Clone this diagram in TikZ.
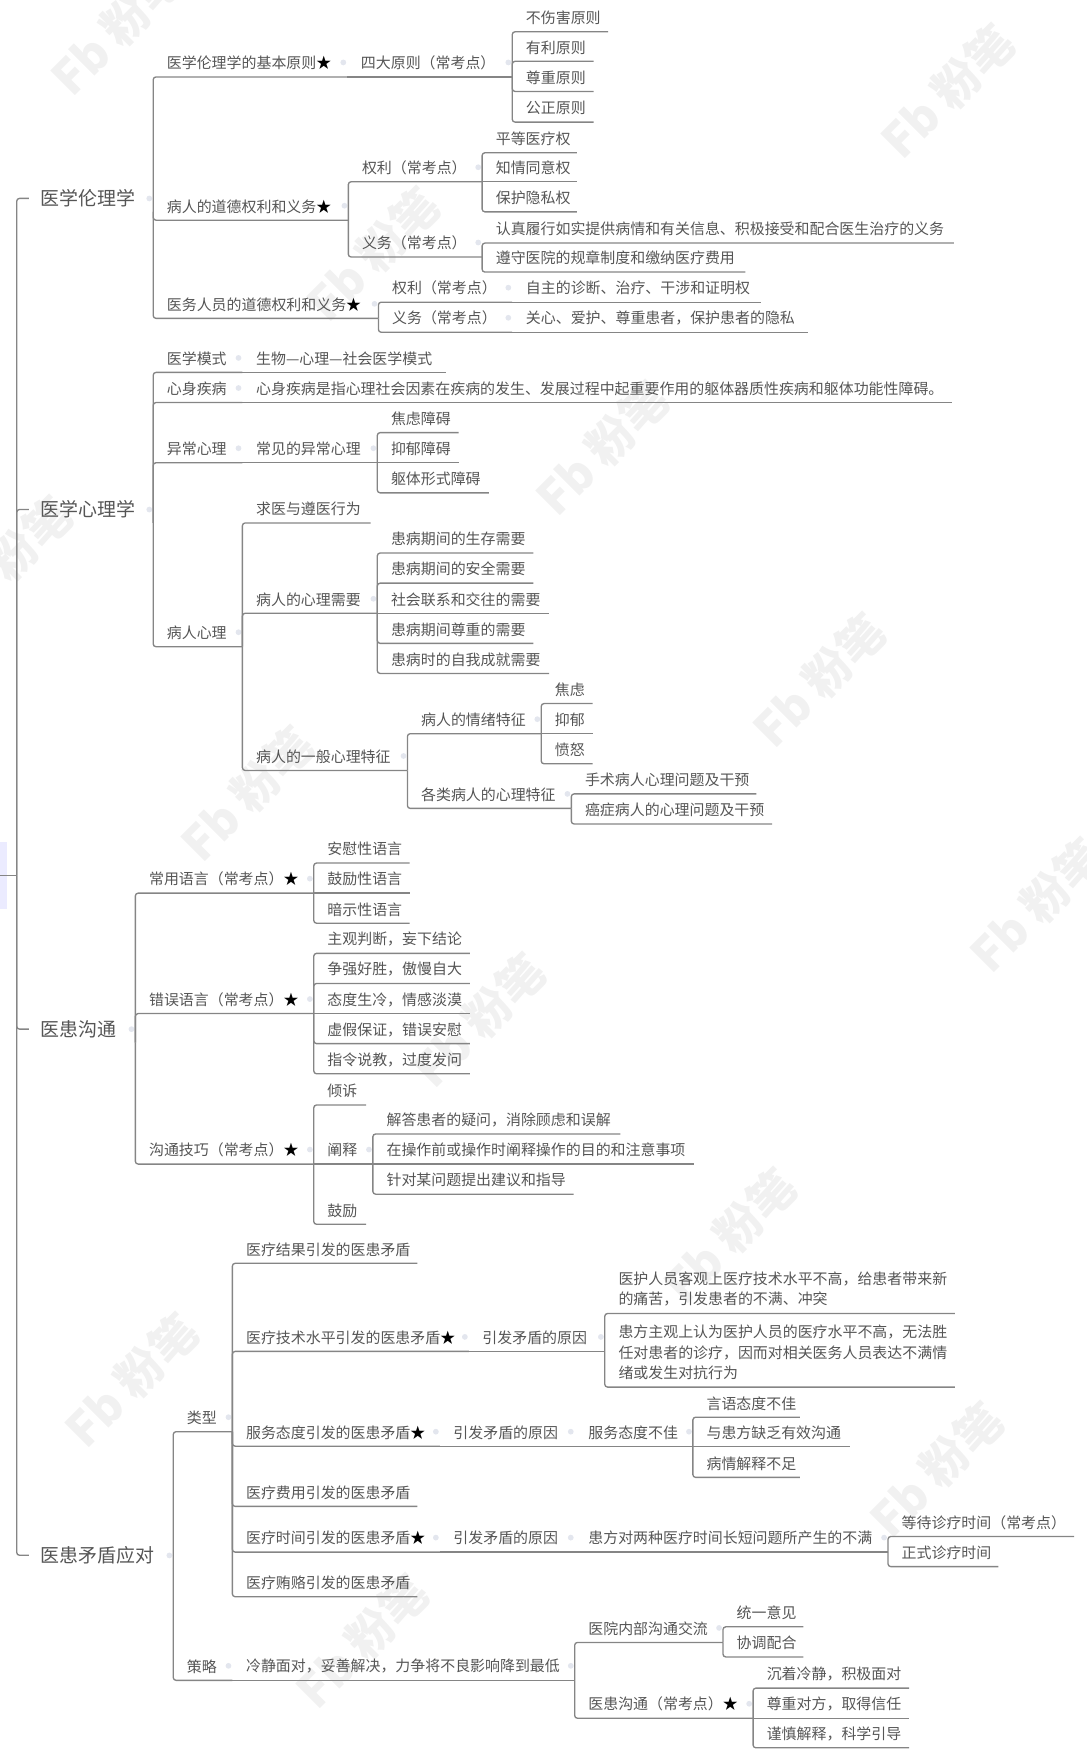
\documentclass[tikz,border=0pt]{standalone}
\usepackage{fontspec}
\setmainfont{Noto Sans CJK SC}
\definecolor{txtc}{HTML}{555555}
\definecolor{linec}{HTML}{858585}
\definecolor{dotc}{HTML}{E3E6EE}
\definecolor{wmc}{HTML}{F1F1F1}
\tikzset{
  topic/.style={anchor=south west,inner xsep=0pt,inner ysep=6pt,align=left,text=txtc,
    font=\fontsize{13.4}{18.5}\selectfont},
  rootnode/.style={topic,inner ysep=4pt,font=\fontsize{17}{20}\selectfont},
  conn/.style={draw=linec,line width=1.2pt,rounded corners=2.5pt},
  wmark/.style={text=wmc,rotate=45,font=\fontsize{42}{44}\selectfont\bfseries}
}
\newcommand{\st}{{\color{black}★}}
% \tn{name}{xleft}{yline}{xright}{text}: a branch lying on its own underline
\newcommand{\tn}[5]{%
  \pgfmathsetlengthmacro{\tw}{(#4-#2)*1pt}%
  \node[topic,text width=\tw] (#1) at (#2,#3) {\hspace*{12.5pt}#5};}
\newcommand{\rn}[5]{%
  \pgfmathsetlengthmacro{\tw}{(#4-#2)*1pt}%
  \node[rootnode,text width=\tw] (#1) at (#2,#3) {\hspace*{10pt}#5};
  \fill[dotc] ([xshift=-3.5pt,yshift=12pt]#1.south east) circle (2.6pt);}
% connector parent -> child: straight when both lie on one line, else an elbow
\newcommand{\cn}[2]{%
  \pgfpointanchor{#1}{south east}\pgfgetlastxy{\xa}{\ya}%
  \pgfpointanchor{#2}{south east}\pgfgetlastxy{\xb}{\yb}%
  \pgfmathsetmacro{\dy}{abs(\ya-\yb)}%
  \ifdim\dy pt<1pt
    \draw[conn] (#1.south east) -- (#2.south east);
  \else
    \draw[conn] (#1.south east) |- (#2.south east);
  \fi}
% pale collapse dot of a parent
\newcommand{\dt}[1]{\fill[dotc] ([xshift=-3.5pt,yshift=13pt]#1.south east) circle (2.6pt);}
\begin{document}
\begin{tikzpicture}[x=1pt,y=-1pt]
\useasboundingbox (0,0) rectangle (974,1568.6);
% watermarks
\foreach \i/\px/\py in {1/105/25,2/850/82,3/335/228,4/540/402,5/735/610,6/222/712,7/930/812,8/430/915,9/655/1108,10/118/1238,11/840/1318,12/325/1472,13/5/505}{
  \node[wmark] (wm\i) at (\px,\py) {Fb 粉笔};
}
\fill[blue!8] (0,755) rectangle (6,815);
% trunk
\coordinate (stub) at (0,785);
\coordinate (hub) at (15,785);
\draw[conn] (stub) -- (hub);
% ---- 1
\rn{r1}{26}{190}{137}{医学伦理学}
\draw[conn] (hub) |- (r1.west);
\tn{a1}{137}{69}{311}{医学伦理学的基本原则\st}\dt{a1}\cn{r1}{a1}
\tn{a1b}{311}{69}{459}{四大原则（常考点）}\dt{a1b}\cn{a1}{a1b}
\tn{a1l1}{459}{28.5}{545}{不伤害原则}\cn{a1b}{a1l1}
\tn{a1l2}{459}{55}{532}{有利原则}\cn{a1b}{a1l2}
\tn{a1l3}{459}{82}{532}{尊重原则}\cn{a1b}{a1l3}
\tn{a1l4}{459}{109.5}{532}{公正原则}\cn{a1b}{a1l4}
\tn{a2}{137}{197.5}{312}{病人的道德权利和义务\st}\dt{a2}\cn{r1}{a2}
\tn{a2q}{312}{163}{432}{权利（常考点）}\dt{a2q}\cn{a2}{a2q}
\tn{a2q1}{432}{137}{517}{平等医疗权}\cn{a2q}{a2q1}
\tn{a2q2}{432}{163}{517}{知情同意权}\cn{a2q}{a2q2}
\tn{a2q3}{432}{190}{517}{保护隐私权}\cn{a2q}{a2q3}
\tn{a2y}{312}{230.5}{432}{义务（常考点）}\dt{a2y}\cn{a2}{a2y}
\tn{a2y1}{432}{218}{855}{认真履行如实提供病情和有关信息、积极接受和配合医生治疗的义务}\cn{a2y}{a2y1}
\tn{a2y2}{432}{244}{668}{遵守医院的规章制度和缴纳医疗费用}\cn{a2y}{a2y2}
\tn{a3}{137}{285.5}{339}{医务人员的道德权利和义务\st}\dt{a3}\cn{r1}{a3}
\tn{a3q}{339}{271}{459}{权利（常考点）}\dt{a3q}\cn{a3}{a3q}
\tn{a3q1}{459}{271}{682}{自主的诊断、治疗、干涉和证明权}\cn{a3q}{a3q1}
\tn{a3y}{339}{298}{459}{义务（常考点）}\dt{a3y}\cn{a3}{a3y}
\tn{a3y1}{459}{298}{724}{关心、爱护、尊重患者，保护患者的隐私}\cn{a3y}{a3y1}
% ---- 2
\rn{r2}{26}{469}{137}{医学心理学}
\draw[conn] (hub) |- (r2.west);
\tn{b1}{137}{334}{217}{医学模式}\dt{b1}\cn{r2}{b1}
\tn{b1a}{217}{334}{400}{生物—心理—社会医学模式}\cn{b1}{b1a}
\tn{b2}{137}{361}{217}{心身疾病}\dt{b2}\cn{r2}{b2}
\tn{b2a}{217}{361}{853}{心身疾病是指心理社会因素在疾病的发生、发展过程中起重要作用的躯体器质性疾病和躯体功能性障碍。}\cn{b2}{b2a}
\tn{b3}{137}{415}{217}{异常心理}\dt{b3}\cn{r2}{b3}
\tn{b3a}{217}{415}{338}{常见的异常心理}\dt{b3a}\cn{b3}{b3a}
\tn{b3a1}{338}{388}{411}{焦虑障碍}\cn{b3a}{b3a1}
\tn{b3a2}{338}{415}{411}{抑郁障碍}\cn{b3a}{b3a2}
\tn{b3a3}{338}{442}{438}{躯体形式障碍}\cn{b3a}{b3a3}
\tn{b4}{137}{580}{217}{病人心理}\dt{b4}\cn{r2}{b4}
\tn{b4a}{217}{469}{332}{求医与遵医行为}\cn{b4}{b4a}
\tn{b4b}{217}{550}{338}{病人的心理需要}\dt{b4b}\cn{b4}{b4b}
\tn{b4b1}{338}{496}{478}{患病期间的生存需要}\cn{b4b}{b4b1}
\tn{b4b2}{338}{523}{478}{患病期间的安全需要}\cn{b4b}{b4b2}
\tn{b4b3}{338}{550}{492}{社会联系和交往的需要}\cn{b4b}{b4b3}
\tn{b4b4}{338}{577}{478}{患病期间尊重的需要}\cn{b4b}{b4b4}
\tn{b4b5}{338}{604}{492}{患病时的自我成就需要}\cn{b4b}{b4b5}
\tn{b4c}{217}{691}{365}{病人的一般心理特征}\dt{b4c}\cn{b4}{b4c}
\tn{b4d}{365}{658}{485}{病人的情绪特征}\dt{b4d}\cn{b4c}{b4d}
\tn{b4d1}{485}{631}{531}{焦虑}\cn{b4d}{b4d1}
\tn{b4d2}{485}{658}{531}{抑郁}\cn{b4d}{b4d2}
\tn{b4d3}{485}{685}{531}{愤怒}\cn{b4d}{b4d3}
\tn{b4e}{365}{725}{512}{各类病人的心理特征}\dt{b4e}\cn{b4c}{b4e}
\tn{b4e1}{512}{712}{678}{手术病人心理问题及干预}\cn{b4e}{b4e1}
\tn{b4e2}{512}{739}{692}{癌症病人的心理问题及干预}\cn{b4e}{b4e2}
% ---- 3
\rn{r3}{26}{935}{121}{医患沟通}
\draw[conn] (hub) |- (r3.west);
\tn{c1}{121}{801}{281}{常用语言（常考点）\st}\dt{c1}\cn{r3}{c1}
\tn{c1a}{281}{774}{367}{安慰性语言}\cn{c1}{c1a}
\tn{c1b}{281}{801}{367}{鼓励性语言}\cn{c1}{c1b}
\tn{c1c}{281}{828}{367}{暗示性语言}\cn{c1}{c1c}
\tn{c2}{121}{909}{281}{错误语言（常考点）\st}\dt{c2}\cn{r3}{c2}
\tn{c2a}{281}{855}{421}{主观判断，妄下结论}\cn{c2}{c2a}
\tn{c2b}{281}{882}{421}{争强好胜，傲慢自大}\cn{c2}{c2b}
\tn{c2c}{281}{909}{421}{态度生冷，情感淡漠}\cn{c2}{c2c}
\tn{c2d}{281}{936}{421}{虚假保证，错误安慰}\cn{c2}{c2d}
\tn{c2e}{281}{963}{421}{指令说教，过度发问}\cn{c2}{c2e}
\tn{c3}{121}{1044}{281}{沟通技巧（常考点）\st}\dt{c3}\cn{r3}{c3}
\tn{c3a}{281}{991}{328}{倾诉}\cn{c3}{c3a}
\tn{c3b}{281}{1044}{334}{阐释}\dt{c3b}\cn{c3}{c3b}
\tn{c3b1}{334}{1017}{556}{解答患者的疑问，消除顾虑和误解}\cn{c3b}{c3b1}
\tn{c3b2}{334}{1044}{622}{在操作前或操作时阐释操作的目的和注意事项}\cn{c3b}{c3b2}
\tn{c3b3}{334}{1071}{514}{针对某问题提出建议和指导}\cn{c3b}{c3b3}
\tn{c3c}{281}{1098}{328}{鼓励}\cn{c3}{c3c}
% ---- 4
\rn{r4}{26}{1407}{155}{医患矛盾应对}
\draw[conn] (hub) |- (r4.west);
\tn{d1}{155}{1284}{208}{类型}\dt{d1}\cn{r4}{d1}
\tn{e1}{208}{1133}{374}{医疗结果引发的医患矛盾}\cn{d1}{e1}
\tn{e2}{208}{1212}{420}{医疗技术水平引发的医患矛盾\st}\dt{e2}\cn{d1}{e2}
\tn{e2a}{420}{1212}{542}{引发矛盾的原因}\dt{e2a}\cn{e2}{e2a}
\tn{e2a1}{542}{1178}{856}{医护人员客观上医疗技术水平不高，给患者带来新\\\hspace*{12.5pt}的痛苦，引发患者的不满、冲突}\cn{e2a}{e2a1}
\tn{e2a2}{542}{1244}{856}{患方主观上认为医护人员的医疗水平不高，无法胜\\\hspace*{12.5pt}任对患者的诊疗，因而对相关医务人员表达不满情\\\hspace*{12.5pt}绪或发生对抗行为}\cn{e2a}{e2a2}
\tn{e3}{208}{1297}{394}{服务态度引发的医患矛盾\st}\dt{e3}\cn{d1}{e3}
\tn{e3a}{394}{1297}{515}{引发矛盾的原因}\dt{e3a}\cn{e3}{e3a}
\tn{e3b}{515}{1297}{621}{服务态度不佳}\dt{e3b}\cn{e3a}{e3b}
\tn{e3b1}{621}{1271}{717}{言语态度不佳}\cn{e3b}{e3b1}
\tn{e3b2}{621}{1297}{762}{与患方缺乏有效沟通}\cn{e3b}{e3b2}
\tn{e3b3}{621}{1325}{717}{病情解释不足}\cn{e3b}{e3b3}
\tn{e4}{208}{1351}{374}{医疗费用引发的医患矛盾}\cn{d1}{e4}
\tn{e5}{208}{1392}{394}{医疗时间引发的医患矛盾\st}\dt{e5}\cn{d1}{e5}
\tn{e5a}{394}{1392}{515}{引发矛盾的原因}\dt{e5a}\cn{e5}{e5a}
\tn{e5b}{515}{1392}{796}{患方对两种医疗时间长短问题所产生的不满}\dt{e5b}\cn{e5a}{e5b}
\tn{e5b1}{796}{1378}{963}{等待诊疗时间（常考点）}\cn{e5b}{e5b1}
\tn{e5b2}{796}{1405}{895}{正式诊疗时间}\cn{e5b}{e5b2}
\tn{e6}{208}{1432}{374}{医疗贿赂引发的医患矛盾}\cn{d1}{e6}
\tn{d2}{155}{1507}{208}{策略}\dt{d2}\cn{r4}{d2}
\tn{d2a}{208}{1507}{515}{冷静面对，妥善解决，力争将不良影响降到最低}\dt{d2a}\cn{d2}{d2a}
\tn{f1}{515}{1473}{648}{医院内部沟通交流}\dt{f1}\cn{d2a}{f1}
\tn{f1a}{648}{1459}{720}{统一意见}\cn{f1}{f1a}
\tn{f1b}{648}{1486}{720}{协调配合}\cn{f1}{f1b}
\tn{f2}{515}{1541}{675}{医患沟通（常考点）\st}\dt{f2}\cn{d2a}{f2}
\tn{f2a}{675}{1514}{815}{沉着冷静，积极面对}\cn{f2}{f2a}
\tn{f2b}{675}{1541}{815}{尊重对方，取得信任}\cn{f2}{f2b}
\tn{f2c}{675}{1567.5}{815}{谨慎解释，科学引导}\cn{f2}{f2c}
\end{tikzpicture}
\end{document}
